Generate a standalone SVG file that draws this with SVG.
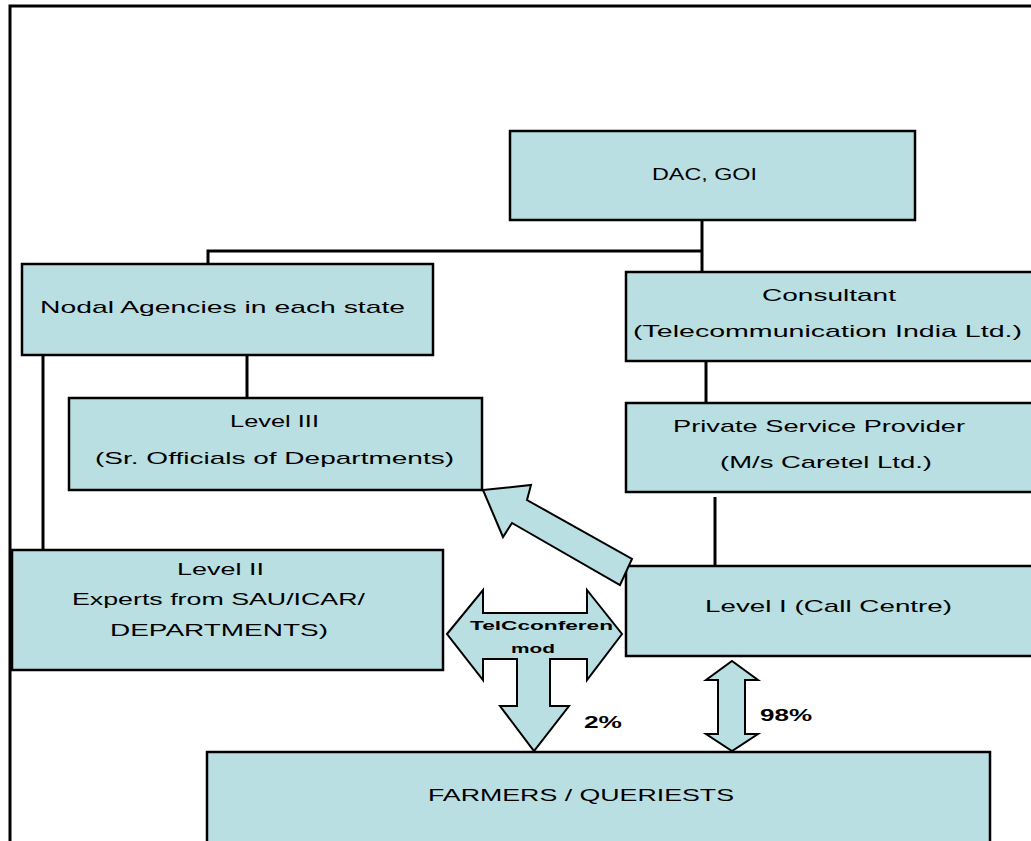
<svg xmlns="http://www.w3.org/2000/svg" width="1031" height="841" viewBox="0 0 1031 841">
<style>
.box{fill:#B9DFE3;stroke:#000;stroke-width:2.5}
.ln{stroke:#000;stroke-width:3;fill:none}
.arr{fill:#B9DFE3;stroke:#000;stroke-width:2;stroke-linejoin:miter}
.t{font-family:"Liberation Sans",Arial,sans-serif;font-size:17px;fill:#000}
.b{font-family:"Liberation Sans",Arial,sans-serif;font-weight:bold;fill:#000}
</style>
<rect x="0" y="0" width="1031" height="841" fill="#fff"/>
<path d="M10,841 V6 H1031" class="ln" stroke-width="2.5"/>
<g id="connectors">
<path class="ln" d="M702,220 V272"/>
<path class="ln" d="M208,264 V251 H702"/>
<path class="ln" d="M706,361 V403"/>
<path class="ln" d="M715,497 V566"/>
<path class="ln" d="M43,355 V550"/>
<path class="ln" d="M247,355 V398"/>
</g>
<g id="dac">
<rect class="box" x="510" y="131" width="405" height="89"/>
<text class="t" x="652" y="180" textLength="105" lengthAdjust="spacingAndGlyphs">DAC, GOI</text>
</g>
<g id="nodal">
<rect class="box" x="22" y="264" width="411" height="91"/>
<text class="t" x="40" y="313" textLength="365" lengthAdjust="spacingAndGlyphs">Nodal Agencies in each state</text>
</g>
<g id="consultant">
<rect class="box" x="626" y="272" width="420" height="89"/>
<text class="t" x="762" y="301" textLength="134" lengthAdjust="spacingAndGlyphs">Consultant</text>
<text class="t" x="633" y="337" textLength="389" lengthAdjust="spacingAndGlyphs">(Telecommunication India Ltd.)</text>
</g>
<g id="psp">
<rect class="box" x="626" y="403" width="420" height="89"/>
<text class="t" x="673" y="432" textLength="292" lengthAdjust="spacingAndGlyphs">Private Service Provider</text>
<text class="t" x="720" y="468" textLength="212" lengthAdjust="spacingAndGlyphs">(M/s Caretel Ltd.)</text>
</g>
<g id="level3">
<rect class="box" x="69" y="398" width="413" height="92"/>
<text class="t" x="230" y="427" textLength="89" lengthAdjust="spacingAndGlyphs">Level III</text>
<text class="t" x="95" y="464" textLength="359" lengthAdjust="spacingAndGlyphs">(Sr. Officials of Departments)</text>
</g>
<g id="level2">
<rect class="box" x="12" y="550" width="431" height="120"/>
<text class="t" x="177" y="575" textLength="87" lengthAdjust="spacingAndGlyphs">Level II</text>
<text class="t" x="72" y="605" textLength="293" lengthAdjust="spacingAndGlyphs">Experts from SAU/ICAR/</text>
<text class="t" x="110" y="636" textLength="218" lengthAdjust="spacingAndGlyphs">DEPARTMENTS)</text>
</g>
<g id="level1">
<rect class="box" x="626" y="566" width="420" height="90"/>
<text class="t" x="705" y="612" textLength="247" lengthAdjust="spacingAndGlyphs">Level I (Call Centre)</text>
</g>
<g id="farmers">
<rect class="box" x="207" y="752" width="783" height="100"/>
<text class="t" x="428" y="801" textLength="306" lengthAdjust="spacingAndGlyphs">FARMERS / QUERIESTS</text>
</g>
<g id="arrow-escalate">
<polygon class="arr" points="483,490 531,485 527,500 632,559 620,585 512,523 503,537"/>
</g>
<g id="arrow-teleconference">
<polygon class="arr" points="447,634 483,590 483,613 587,613 587,590 622,634 587,680 587,659 550,659 550,706 569,706 534,751 500,706 517,706 517,659 483,659 483,680"/>
<text class="b" font-size="13" x="470" y="630" textLength="143" lengthAdjust="spacingAndGlyphs">TelCconferen</text>
<text class="b" font-size="13" x="511" y="653" textLength="44" lengthAdjust="spacingAndGlyphs">mod</text>
<text class="b" font-size="17" x="584" y="728" textLength="38" lengthAdjust="spacingAndGlyphs">2%</text>
</g>
<g id="arrow-callcentre">
<polygon class="arr" points="732,661 758,680 745,680 745,734 758,734 732,751 706,734 718,734 718,680 706,680"/>
<text class="b" font-size="17" x="760" y="721" textLength="52" lengthAdjust="spacingAndGlyphs">98%</text>
</g>
</svg>
